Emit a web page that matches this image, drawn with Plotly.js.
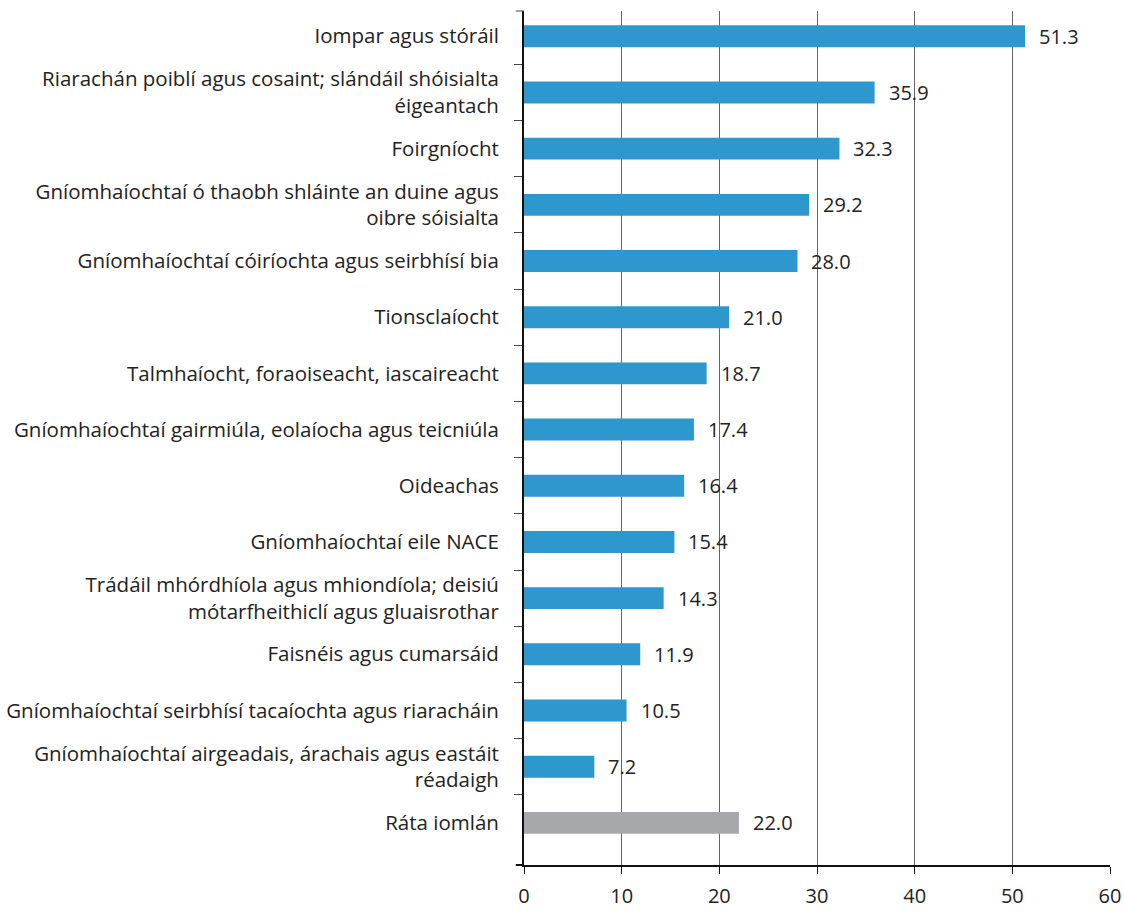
<!DOCTYPE html>
<html>
<head>
<meta charset="utf-8">
<script src="https://cdn.plot.ly/plotly-3.0.1.min.js"></script>
<style>html,body{margin:0;padding:0;background:#fff;}#chart{width:1124px;height:911px;}</style>
</head>
<body>
<div id="chart"></div>
<script>
const categories = [
  "Iompar agus stóráil",
  "Riarachán poiblí agus cosaint; slándáil shóisialta<br>éigeantach",
  "Foirgníocht",
  "Gníomhaíochtaí ó thaobh shláinte an duine agus<br>oibre sóisialta",
  "Gníomhaíochtaí cóiríochta agus seirbhísí bia",
  "Tionsclaíocht",
  "Talmhaíocht, foraoiseacht, iascaireacht",
  "Gníomhaíochtaí gairmiúla, eolaíocha agus teicniúla",
  "Oideachas",
  "Gníomhaíochtaí eile NACE",
  "Trádáil mhórdhíola agus mhiondíola; deisiú<br>mótarfheithiclí agus gluaisrothar",
  "Faisnéis agus cumarsáid",
  "Gníomhaíochtaí seirbhísí tacaíochta agus riaracháin",
  "Gníomhaíochtaí airgeadais, árachais agus eastáit<br>réadaigh",
  "Ráta iomlán"
];
const values = [51.3, 35.9, 32.3, 29.2, 28.0, 21.0, 18.7, 17.4, 16.4, 15.4, 14.3, 11.9, 10.5, 7.2, 22.0];
const xTickVals = [0, 10, 20, 30, 40, 50, 60];

const BLUE = "#2E97CE";
const GREY = "#A7A8AB";
const colors = categories.map((c, i) => i === categories.length - 1 ? GREY : BLUE);
const FONT = "Open Sans, Noto Sans, sans-serif";

const trace = {
  type: "bar",
  orientation: "h",
  x: values,
  y: categories,
  marker: {color: colors},
  width: 0.39,
  hoverinfo: "x+y"
};

const annotations = values.map((v, i) => ({
  x: v, y: categories[i], xref: "x", yref: "y",
  text: v.toFixed(1), showarrow: false,
  xanchor: "left", yanchor: "middle", xshift: 12, yshift: 0,
  font: {family: FONT, size: 20, color: "#222"}
}));

const layout = {
  width: 1124, height: 911,
  margin: {l: 524, r: 14, t: 11, b: 46},
  paper_bgcolor: "#fff", plot_bgcolor: "#fff",
  showlegend: false,
  font: {family: FONT, size: 20.5, color: "#222"},
  xaxis: {
    range: [0, 60], tickvals: xTickVals, ticktext: xTickVals.map(String),
    showgrid: true, gridcolor: "#666", gridwidth: 1,
    zeroline: false,
    showline: true, linecolor: "#111", linewidth: 2,
    ticks: "outside", ticklen: 7, tickcolor: "#111", tickwidth: 1,
    tickfont: {size: 20, color: "#222"}, ticklabelstandoff: 5, fixedrange: true
  },
  yaxis: {
    type: "category",
    range: [14.75, -0.45],
    showgrid: false, zeroline: false,
    showline: true, linecolor: "#111", linewidth: 2,
    ticks: "outside", tickson: "boundaries", ticklen: 8, tickcolor: "#444", tickwidth: 1,
    tickfont: {size: 20.5, color: "#222"},
    ticklabelstandoff: 19, fixedrange: true
  },
  shapes: [
    {type: "line", xref: "paper", yref: "paper", x0: -0.014, x1: 0, y0: 0, y1: 0, line: {color: "#111", width: 2}},
    {type: "line", xref: "paper", yref: "paper", x0: -0.014, x1: 0, y0: 1, y1: 1, line: {color: "#444", width: 1}}
  ],
  annotations: annotations
};

Plotly.newPlot("chart", [trace], layout, {displayModeBar: false, staticPlot: true});
</script>
</body>
</html>
